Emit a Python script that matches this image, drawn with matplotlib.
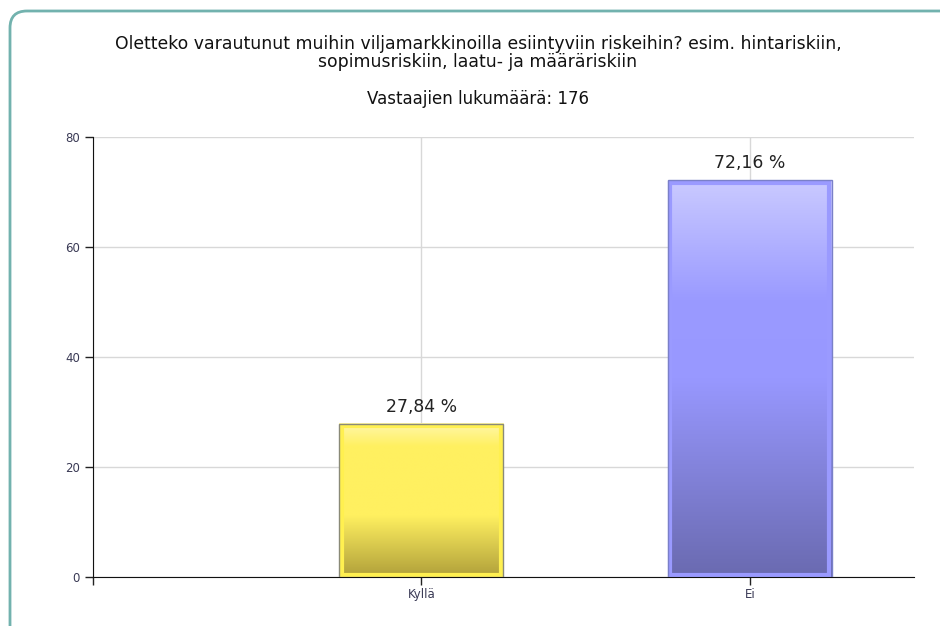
import numpy as np
import matplotlib
matplotlib.use("Agg")
import matplotlib.pyplot as plt
from matplotlib.patches import FancyBboxPatch
from matplotlib.colors import LinearSegmentedColormap

categories = ["Kyllä", "Ei"]
values = [27.84, 72.16]
value_labels = ["27,84 %", "72,16 %"]
title = "Oletteko varautunut muihin viljamarkkinoilla esiintyviin riskeihin? esim. hintariskiin,\nsopimusriskiin, laatu- ja määräriskiin"
subtitle = "Vastaajien lukumäärä: 176"
yticks = [0, 20, 40, 60, 80]

plt.rcParams['font.family'] = ['DejaVu Sans']

fig = plt.figure(figsize=(9.4, 6.26), dpi=100)
fig.patch.set_facecolor('white')

# rounded frame
frame = FancyBboxPatch((10/940, -20/626), 960/940, (626-11+20)/626,
                       boxstyle="round,pad=0,rounding_size=0.018",
                       transform=fig.transFigure, fill=False,
                       edgecolor='#72b2ae', linewidth=2, mutation_aspect=940/626)
fig.patches.append(frame)

fig.text(478/940, 1 - 53/626, title, ha='center', va='center', fontsize=12.4,
         color='#111111', linespacing=0.98)
fig.text(478/940, 1 - 99/626, subtitle, ha='center', va='center', fontsize=12,
         color='#111111')

ax = fig.add_axes([93/940, 49/626, (914-93)/940, (577-137)/626])
x = np.arange(1, len(categories) + 1)
ax.set_xlim(0, 2.5)
ax.set_ylim(0, 80)

ax.set_yticks(yticks)
ax.set_yticklabels([str(t) for t in yticks])
ax.set_xticks([0] + list(x))
ax.set_xticklabels([""] + categories)
ax.tick_params(axis='both', labelsize=8.5, colors='#222222', labelcolor='#3a3a55',
               length=6, width=1, direction='out')
ax.tick_params(axis='x', length=6, pad=2)

ax.grid(True, color='#d8d8d8', linewidth=1)
ax.set_axisbelow(True)
for s in ['top', 'right']:
    ax.spines[s].set_visible(False)
ax.spines['left'].set_color('#111111')
ax.spines['bottom'].set_color('#111111')

grad_specs = [
    (['#fff7a8', '#fff060', '#fff060', '#b0a03a'],
     [0.0, 0.15, 0.6, 1.0], '#8a8a78', '#fff050'),
    (['#cacaff', '#9a9aff', '#9898ff', '#6a6ab0'],
     [0.0, 0.3, 0.5, 1.0], '#7a80c8', '#9a9aff'),
]

fig.canvas.draw()
inv = ax.transData.inverted()

bars = ax.bar(x, values, width=0.5, color='none', edgecolor='none', zorder=2)
for bar, (cols, pos, outer, inner), lab in zip(bars, grad_specs, value_labels):
    x0, y0 = bar.get_x(), bar.get_y()
    w, h = bar.get_width(), bar.get_height()
    cmap = LinearSegmentedColormap.from_list('g', list(zip(pos, cols)))
    grad = np.linspace(0, 1, 256).reshape(-1, 1)
    ax.imshow(grad, cmap=cmap, aspect='auto', extent=(x0, x0 + w, y0, y0 + h),
              origin='upper', zorder=2, interpolation='bilinear')
    # inner light border, inset by a couple of pixels
    (px0, py0), (px1, py1) = ax.transData.transform([(x0, y0), (x0 + w, y0 + h)])
    ins = 2.5
    (ix0, iy0), (ix1, iy1) = inv.transform([(px0 + ins, py0 + ins), (px1 - ins, py1 - ins)])
    ax.add_patch(plt.Rectangle((ix0, iy0), ix1 - ix0, iy1 - iy0, fill=False,
                               edgecolor=inner, linewidth=3, zorder=3))
    ax.add_patch(plt.Rectangle((x0, y0), w, h, fill=False, edgecolor=outer,
                               linewidth=1, zorder=4))
    ax.annotate(lab, (x0 + w / 2, y0 + h), xytext=(0, 6),
                textcoords='offset points', ha='center', va='bottom',
                fontsize=12.4, color='#222222')

ax.set_xlim(0, 2.5)
ax.set_ylim(0, 80)

fig.savefig('out.png', dpi=100, facecolor='white')
